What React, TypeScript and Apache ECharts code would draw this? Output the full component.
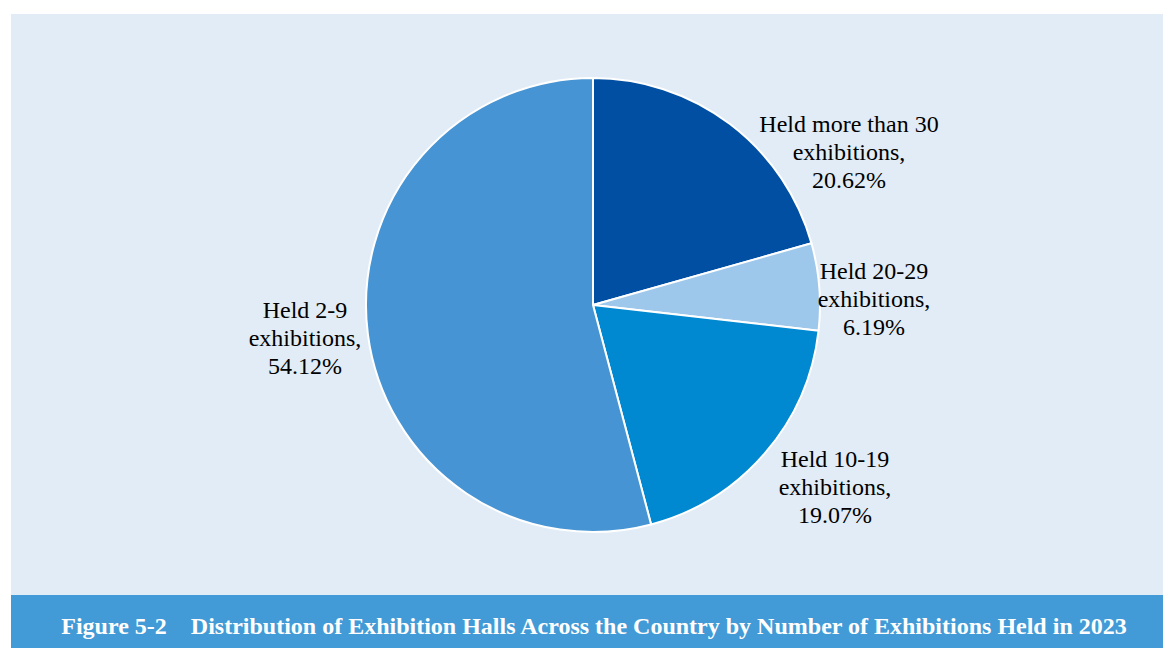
import React, { useEffect, useRef } from "react";
import * as echarts from "echarts";

const categories = [
  "Held more than 30\nexhibitions",
  "Held 20-29\nexhibitions",
  "Held 10-19\nexhibitions",
  "Held 2-9\nexhibitions",
];
const shares = [20.62, 6.19, 19.07, 54.12];
const sliceColors = ["#004fa3", "#9dc8ec", "#0088d0", "#4694d3"];
const titleText =
  "Figure 5-2    Distribution of Exhibition Halls Across the Country by Number of Exhibitions Held in 2023";

const labelPositions = [
  [849, 152],
  [874, 299],
  [835, 487],
  [305, 338],
];

export default function App() {
  const ref = useRef<HTMLDivElement>(null);
  useEffect(() => {
    if (!ref.current) return;
    const chart = echarts.init(ref.current, undefined, { renderer: "svg" });
    chart.setOption({
      animation: false,
      backgroundColor: "#ffffff",
      graphic: [
        {
          type: "rect",
          z: -10,
          shape: { x: 11, y: 14, width: 1152, height: 581 },
          style: { fill: "#e2ecf6" },
        },
        {
          type: "rect",
          z: -10,
          shape: { x: 11, y: 595, width: 1152, height: 53 },
          style: { fill: "#429bd6" },
        },
        {
          type: "text",
          x: 594,
          y: 626,
          style: {
            text: titleText,
            fill: "#ffffff",
            fontFamily: "Liberation Serif",
            fontWeight: "bold",
            fontSize: 24,
            align: "center",
            verticalAlign: "middle",
          },
        },
      ],
      series: [
        {
          type: "pie",
          center: [593, 305],
          radius: 227,
          startAngle: 90,
          clockwise: true,
          avoidLabelOverlap: false,
          itemStyle: { borderColor: "#ffffff", borderWidth: 2 },
          label: {
            show: true,
            position: "outside",
            color: "#000000",
            fontFamily: "Liberation Serif",
            fontSize: 24,
            lineHeight: 28,
            align: "center",
            formatter: (p: any) => `${p.name},\n${p.value.toFixed(2)}%`,
          },
          labelLine: { show: false },
          labelLayout: (params: any) => {
            const pos = labelPositions[params.dataIndex];
            return { x: pos[0], y: pos[1], align: "center", verticalAlign: "middle" };
          },
          emphasis: { disabled: true },
          data: categories.map((name, i) => ({
            name,
            value: shares[i],
            itemStyle: { color: sliceColors[i] },
          })),
        },
      ],
    });
    return () => chart.dispose();
  }, []);
  return (
    <div
      ref={ref}
      style={{ position: "fixed", left: 0, top: 0, width: 1163, height: 648 }}
    />
  );
}
